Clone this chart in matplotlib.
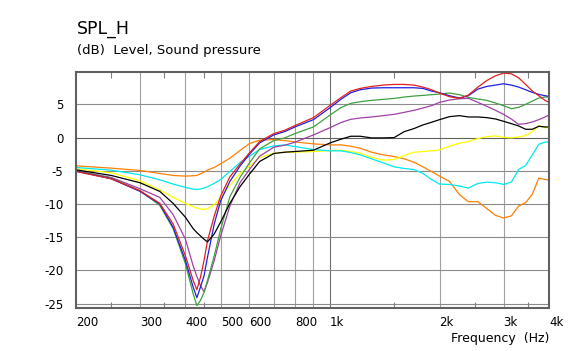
import matplotlib
matplotlib.use("Agg")
import matplotlib.pyplot as plt

plt.rcParams["font.family"] = "DejaVu Sans"
plt.rcParams["axes.unicode_minus"] = False

# frequency grid (Hz) shared by all curves
freq = [200, 250, 300, 340, 370, 400, 420, 430, 440, 450, 460, 480, 500, 530, 565,
        600, 640, 700, 750, 800, 900, 1000, 1070, 1140, 1210, 1300, 1400, 1500,
        1600, 1700, 1800, 1900, 2000, 2130, 2270, 2400, 2550, 2700, 2850, 3000,
        3150, 3300, 3450, 3600, 3750, 3900, 4000]

# SPL (dB) per curve
spl_orange = [-4.25, -4.6, -4.95, -5.4, -5.7, -5.8, -5.75, -5.7, -5.45, -5.2, -4.9, -4.5, -3.95,
              -3.1, -1.95, -0.9, -0.4, -0.3, -0.45, -0.65, -0.95, -1.1, -1.1, -1.3, -1.6, -2.2,
              -2.6, -2.85, -3.2, -3.7, -4.4, -5.1, -5.8, -6.6, -8.6, -9.65, -9.65, -10.7,
              -11.7, -12.1, -11.8, -10.3, -9.8, -8.5, -6.1, -6.3, -6.4]
spl_yellow = [-4.7, -5.3, -6.5, -7.9, -9.0, -9.9, -10.4, -10.6, -10.75, -10.8, -10.7, -10.1, -9.0,
              -7.2, -5.4, -4.3, -3.0, -2.35, -2.2, -2.2, -2.1, -1.95, -1.9, -2.1, -2.35, -2.95,
              -3.4, -3.3, -2.7, -2.2, -2.1, -2.0, -1.85, -1.3, -0.85, -0.6, -0.15, 0.15, 0.25,
              0.05, -0.05, 0.1, 0.3, 0.9, 1.8, 1.5, 1.45]
spl_cyan = [-4.5, -4.9, -5.6, -6.35, -7.0, -7.5, -7.75, -7.8, -7.75, -7.6, -7.4, -6.9, -6.3,
            -5.1, -3.75, -2.8, -1.8, -1.25, -1.1, -1.35, -1.8, -2.0, -2.0, -2.25, -2.6, -3.2,
            -3.8, -4.4, -4.65, -4.8, -5.4, -6.3, -7.0, -7.05, -7.3, -7.6, -6.9, -6.7, -6.8,
            -7.05, -6.7, -4.8, -4.2, -2.6, -1.0, -0.7, -0.65]
spl_black = [-4.85, -5.7, -6.8, -8.1, -9.9, -12.0, -13.7, -14.3, -14.8, -15.3, -15.7, -14.5, -12.7,
             -9.9, -7.4, -5.5, -3.6, -2.4, -2.2, -2.1, -1.9, -0.8, -0.25, 0.2, 0.2, -0.05,
             -0.05, 0.0, 0.9, 1.35, 1.9, 2.3, 2.7, 3.15, 3.3, 3.1, 3.1, 3.0, 2.8, 2.45, 2.1,
             1.75, 1.25, 1.25, 1.7, 1.6, 1.6]
spl_purple = [-5.0, -6.0, -7.7, -9.0, -11.6, -15.3, -19.3, -20.9, -22.3, -23.2, -21.8, -18.5, -14.8,
              -10.3, -6.8, -4.8, -2.8, -1.45, -1.15, -0.7, 0.4, 1.5, 2.25, 2.75, 2.95, 3.1, 3.3,
              3.5, 3.8, 4.1, 4.45, 4.8, 5.3, 5.65, 5.85, 5.9, 5.3, 4.7, 4.1, 3.5, 2.8, 2.0,
              2.1, 2.35, 2.7, 3.1, 3.4]
spl_green = [-5.0, -6.1, -8.0, -10.2, -13.7, -19.0, -23.5, -25.3, -24.5, -23.3, -21.5, -17.8, -13.8,
             -8.9, -6.0, -3.8, -1.7, -0.45, -0.05, 0.6, 1.6, 3.4, 4.5, 5.15, 5.4, 5.6, 5.75,
             5.9, 6.1, 6.25, 6.35, 6.45, 6.55, 6.7, 6.45, 6.05, 5.8, 5.6, 5.2, 4.8, 4.35,
             4.55, 5.0, 5.5, 5.95, 6.1, 6.1]
spl_blue = [-5.05, -6.2, -8.1, -10.0, -13.5, -18.5, -22.5, -24.1, -22.5, -20.8, -18.0, -13.0, -9.5,
            -6.6, -4.3, -2.5, -0.8, 0.4, 0.9, 1.6, 2.7, 4.5, 5.75, 6.75, 7.2, 7.45, 7.5, 7.5,
            7.5, 7.5, 7.4, 7.0, 6.75, 6.3, 5.95, 6.3, 7.3, 7.7, 7.9, 8.1, 7.9, 7.6, 7.2, 6.8,
            6.5, 6.3, 6.2]
spl_red = [-5.1, -6.2, -8.0, -9.9, -13.0, -17.8, -21.5, -22.9, -21.0, -18.5, -15.5, -11.8, -8.8,
           -5.9, -4.0, -2.3, -0.6, 0.6, 1.1, 1.8, 3.0, 4.85, 6.0, 7.0, 7.4, 7.7, 7.9, 8.0, 8.0,
           7.9, 7.6, 7.2, 6.7, 6.15, 5.9, 6.4, 7.6, 8.6, 9.3, 9.7, 9.6, 9.0, 8.0, 7.0, 6.3,
           5.6, 5.3]

curves = [
    (spl_orange, "#ff8000"),
    (spl_yellow, "#ffff00"),
    (spl_cyan, "#00e8f0"),
    (spl_purple, "#a040a8"),
    (spl_green, "#40a040"),
    (spl_blue, "#2020e0"),
    (spl_red, "#e02020"),
    (spl_black, "#000000"),
]

x_ticks = [200, 300, 400, 500, 600, 800, 1000, 2000, 3000, 4000]
x_labels = ["200", "300", "400", "500", "600", "800", "1k", "2k", "3k", "4k"]
x_grid = [300, 400, 500, 600, 700, 800, 900, 2000, 3000]
x_minor = [250, 350, 450, 1500, 2500, 3500]
y_ticks = [-25, -20, -15, -10, -5, 0, 5]

fig = plt.figure(figsize=(5.78, 3.51), dpi=100)
ax = fig.add_axes([76 / 578, 43 / 351, 473 / 578, 236 / 351])
ax.set_xscale("log")
ax.set_xlim(200, 4000)
ax.set_ylim(-25.65, 9.87)

for xv in x_grid:
    ax.axvline(xv, color="#a0a0a0", lw=0.8, zorder=1)
ax.axvline(1000, color="#707070", lw=0.8, zorder=1)
for yv in y_ticks:
    ax.axhline(yv, color="#606060" if yv == 0 else "#8c8c8c", lw=0.8, zorder=1)

for vals, col in curves:
    ax.plot(freq, vals, color=col, lw=0.9, zorder=3)

ax.set_xticks(x_ticks)
ax.set_xticklabels(x_labels)
for lab in ax.get_xticklabels():
    lab.set_horizontalalignment("left")
ax.set_xticks(x_minor, minor=True)
ax.set_xticklabels([], minor=True)
ax.set_yticks(y_ticks)
ax.set_yticklabels([str(v) for v in y_ticks])

ax.tick_params(axis="x", which="major", length=0, pad=6, labelsize=8.5)
ax.tick_params(axis="y", which="major", length=0, pad=9, labelsize=8.5)
ax.tick_params(axis="x", which="minor", direction="in", length=4, width=0.8,
               color="#808080", top=True, bottom=True)

for sp in ax.spines.values():
    sp.set_color("#606060")
    sp.set_linewidth(1.5)
    sp.set_zorder(5)

fig.text(77 / 578, 1 - 34 / 351, "SPL_H", fontsize=12.5, ha="left", va="baseline")
fig.text(77 / 578, 1 - 54 / 351, "(dB)  Level, Sound pressure", fontsize=9.5,
         ha="left", va="baseline")
fig.text(549 / 578, 1 - 342 / 351, "Frequency  (Hz)", fontsize=9, ha="right",
         va="baseline")

fig.savefig("out.png", dpi=100)
